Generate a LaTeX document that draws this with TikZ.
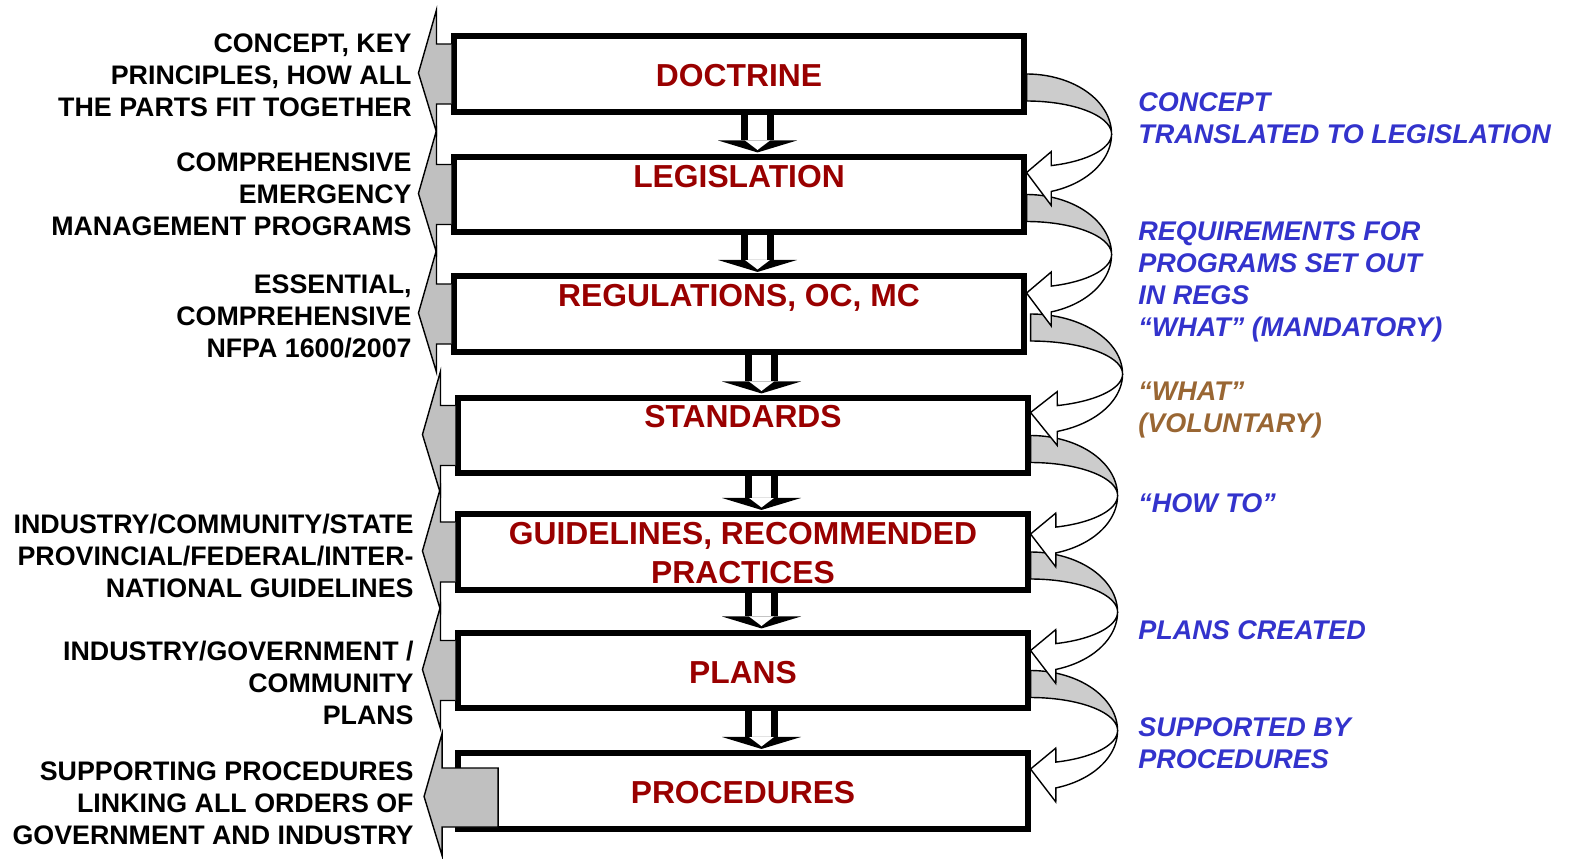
\documentclass[tikz,border=0pt]{standalone}
\usepackage{fontspec}
\setmainfont{Liberation Sans}
\usetikzlibrary{calc}
\definecolor{titlered}{RGB}{153,0,0}
\definecolor{noteblue}{RGB}{51,51,204}
\definecolor{notebrown}{RGB}{153,102,51}
\definecolor{arrowgray}{RGB}{192,192,192}
\definecolor{bandgray}{RGB}{204,204,204}
\tikzstyle{stagebox}=[draw=black,line width=2.8pt,minimum width=284.75pt,minimum height=37.75pt,inner sep=0pt]
\tikzstyle{stagetitle}=[text=titlered,font=\fontsize{15.9}{19.5}\selectfont\bfseries,align=center,inner sep=0pt]
\tikzstyle{leftnote}=[anchor=east,align=right,font=\fontsize{13.4}{16}\selectfont\bfseries,inner sep=0pt]
\tikzstyle{rightnote}=[anchor=west,align=left,text=noteblue,font=\fontsize{13.5}{16}\selectfont\bfseries\itshape,inner sep=0pt]
\tikzstyle{grayarrow}=[draw=black,line width=0.7pt,fill=arrowgray,line join=miter]
\tikzstyle{bandback}=[draw=black,line width=0.7pt,fill=bandgray]
\tikzstyle{bandfront}=[draw=black,line width=0.7pt,fill=white]

% gray arrow pointing left out of a box
\newcommand{\sidearrow}[1]{%
  \draw[grayarrow] ($(#1.west)+(0,-30)$) -- ($(#1.west)+(-15,-30)$) -- ($(#1.west)+(-15,-64)$)
    -- ($(#1.west)+(-33,-1)$) -- ($(#1.west)+(-15,58)$) -- ($(#1.west)+(-15,30)$) -- ($(#1.west)+(0,30)$);
}
% double line arrow from one box down to the next
\newcommand{\stagearrow}[2]{%
  \fill ($(#2.north)+(-21,-13.5)$) -- ($(#2.north)+(58,-13.5)$) -- ($(#2.north)+(18.5,-1.5)$) -- cycle;
  \fill[white] ($(#2.north)+(6,-13.5)$) -- ($(#2.north)+(31,-13.5)$) -- ($(#2.north)+(18.5,-4)$) -- cycle;
  \draw[line width=3.6pt] ($(#1.south -| #2.north)+(5.8,0)$) -- ($(#2.north)+(5.8,-13.5)$);
  \draw[line width=3.6pt] ($(#1.south -| #2.north)+(31.2,0)$) -- ($(#2.north)+(31.2,-13.5)$);
}
% curved arrow on the right from box #1 to box #2, #3 = how far it swings out
\newcommand{\bentarrow}[3]{%
  \begin{scope}[shift={(#2.east |- #1.center)}]
    \draw[bandback] plot[domain=-90:0,samples=40] ({#3*cos(\x)},{60+60*sin(\x)})
      -- plot[domain=0:-90,samples=40] ({#3*cos(\x)},{60+33*sin(\x)}) -- cycle;
    \draw[bandfront] plot[domain=0:73.1,samples=40] ({#3*cos(\x)},{60+60*sin(\x)})
      -- ({0.29*#3},131.4) -- (0,98.5) -- ({0.29*#3},77.6)
      -- plot[domain=73.1:0,samples=40] ({#3*cos(\x)},{60+33*sin(\x)}) -- cycle;
  \end{scope}
}

\begin{document}
\begin{tikzpicture}[x=0.5pt,y=-0.5pt]
  \useasboundingbox (0,0) rectangle (1572,858);

  \node[stagebox] (doctrine) at (739,74) {};
  \node[stagebox] (legis) at (739,194.5) {};
  \node[stagebox] (regs) at (739,314) {};
  \node[stagebox] (standards) at (743,435.5) {};
  \node[stagebox] (guides) at (743,552) {};
  \node[stagebox] (plans) at (743,670.5) {};
  \node[stagebox] (procs) at (743,791) {};

  \sidearrow{doctrine}
  \sidearrow{legis}
  \sidearrow{regs}
  \sidearrow{standards}
  \sidearrow{guides}
  \sidearrow{plans}
  % last one reaches into the box
  \draw[grayarrow] ($(procs.west)+(42.6,-23)$) -- ($(procs.west)+(-13.4,-23)$) -- ($(procs.west)+(-13.4,-57.5)$)
    -- ($(procs.west)+(-31.4,5.5)$) -- ($(procs.west)+(-13.4,64.5)$) -- ($(procs.west)+(-13.4,36)$)
    -- ($(procs.west)+(42.6,36)$) -- cycle;

  \stagearrow{doctrine}{legis}
  \stagearrow{legis}{regs}
  \stagearrow{regs}{standards}
  \stagearrow{standards}{guides}
  \stagearrow{guides}{plans}
  \stagearrow{plans}{procs}

  \bentarrow{plans}{procs}{87}
  \bentarrow{guides}{plans}{87}
  \bentarrow{standards}{guides}{87}
  \bentarrow{regs}{standards}{92}
  \bentarrow{legis}{regs}{85}
  \bentarrow{doctrine}{legis}{85}

  \node[stagetitle] (doctrinetext) at (739,76) {DOCTRINE};
  \node[stagetitle] (legistext) at (739,177) {LEGISLATION};
  \node[stagetitle] (regstext) at (739,298) {REGULATIONS, OC, MC};
  \node[stagetitle] (standardstext) at (743,417) {STANDARDS};
  \node[stagetitle] (guidestext) at (743,553.5) {GUIDELINES, RECOMMENDED\\PRACTICES};
  \node[stagetitle] (planstext) at (743,673) {PLANS};
  \node[stagetitle] (procstext) at (743,793) {PROCEDURES};

  \node[leftnote] (keynote) at (412,75) {CONCEPT, KEY\\PRINCIPLES, HOW ALL\\THE PARTS FIT TOGETHER};
  \node[leftnote] (cemnote) at (412,194) {COMPREHENSIVE\\EMERGENCY\\MANAGEMENT PROGRAMS};
  \node[leftnote] (nfpanote) at (412,316) {ESSENTIAL,\\COMPREHENSIVE\\NFPA 1600/2007};
  \node[leftnote] (guidenote) at (414,556) {INDUSTRY/COMMUNITY/STATE\\PROVINCIAL/FEDERAL/INTER-\\NATIONAL GUIDELINES};
  \node[leftnote] (plannote) at (414,683) {INDUSTRY/GOVERNMENT /\\COMMUNITY\\PLANS};
  \node[leftnote] (procnote) at (414,803) {SUPPORTING PROCEDURES\\LINKING ALL ORDERS OF\\GOVERNMENT AND INDUSTRY};

  \node[rightnote] (concept) at (1138,118) {CONCEPT\\TRANSLATED TO LEGISLATION};
  \node[rightnote] (require) at (1138,282) {REQUIREMENTS FOR\\PROGRAMS SET OUT\\IN REGS\\“WHAT” (MANDATORY)};
  \node[rightnote,text=notebrown] (voluntary) at (1138,410) {“WHAT”\\(VOLUNTARY)};
  \node[rightnote] (howto) at (1138,503) {“HOW TO”};
  \node[rightnote] (plansmade) at (1138,630) {PLANS CREATED};
  \node[rightnote] (supported) at (1138,743) {SUPPORTED BY\\PROCEDURES};
\end{tikzpicture}
\end{document}
